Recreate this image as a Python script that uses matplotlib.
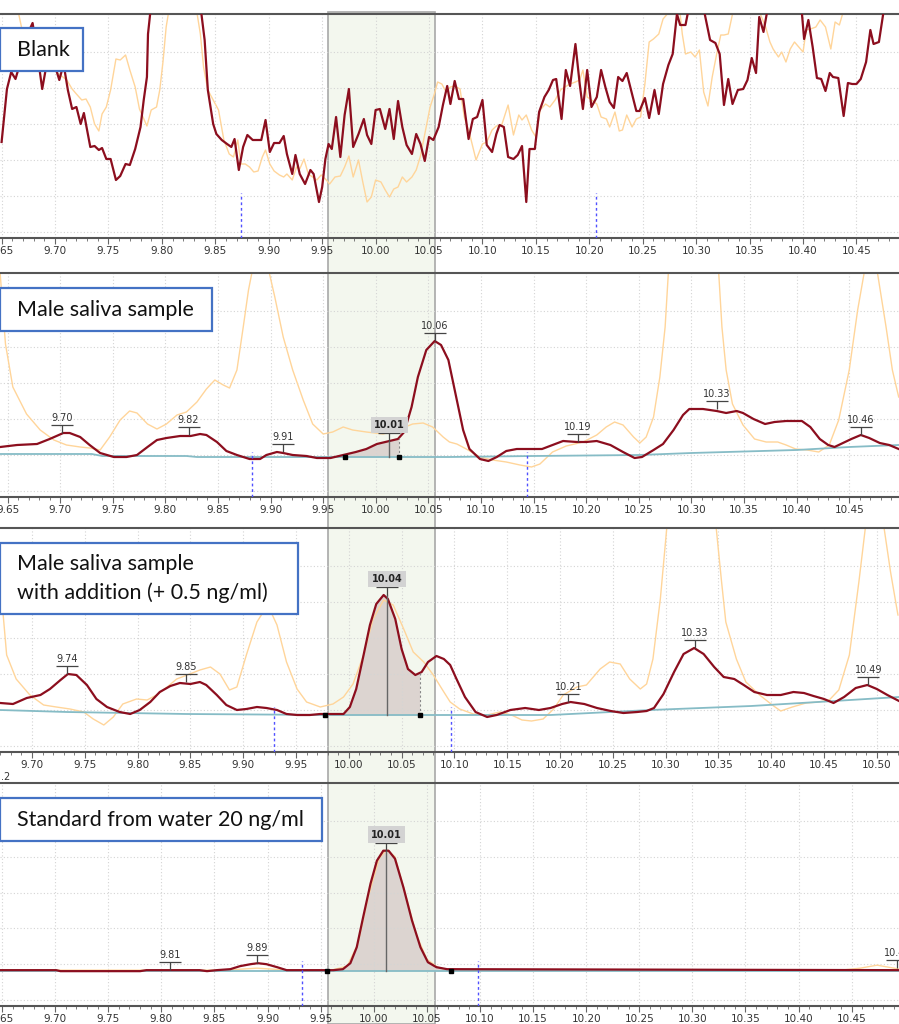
import numpy as np
import matplotlib.pyplot as plt
from matplotlib.patches import Rectangle
from matplotlib.path import Path
from matplotlib.ticker import MultipleLocator, FormatStrFormatter

# ---------------- data (retention time [min], signal height [a.u.]) ----------------
# Panel 1: Blank
p1_red_t = [9.650, 9.655, 9.659, 9.663, 9.669, 9.673, 9.679, 9.683, 9.688, 9.692, 9.698, 9.704, 9.708,
            9.712, 9.716, 9.720, 9.724, 9.727, 9.733, 9.737, 9.741, 9.744, 9.748, 9.752, 9.757, 9.761,
            9.766, 9.770, 9.775, 9.780, 9.783, 9.786, 9.787, 9.789, 9.800, 9.820, 9.837, 9.840, 9.843,
            9.848, 9.851, 9.856, 9.861, 9.865, 9.868, 9.872, 9.876, 9.880, 9.885, 9.889, 9.893, 9.897,
            9.901, 9.905, 9.910, 9.914, 9.917, 9.922, 9.925, 9.929, 9.934, 9.939, 9.942, 9.947, 9.950,
            9.953, 9.956, 9.959, 9.963, 9.967, 9.971, 9.975, 9.979, 9.984, 9.989, 9.992, 9.996, 10.000,
            10.004, 10.009, 10.013, 10.017, 10.021, 10.025, 10.029, 10.034, 10.038, 10.042, 10.046,
            10.050, 10.054, 10.059, 10.063, 10.067, 10.070, 10.074, 10.078, 10.082, 10.087, 10.091,
            10.095, 10.100, 10.104, 10.109, 10.113, 10.116, 10.120, 10.124, 10.129, 10.133, 10.137,
            10.141, 10.144, 10.149, 10.153, 10.158, 10.162, 10.166, 10.169, 10.174, 10.178, 10.182,
            10.187, 10.191, 10.194, 10.198, 10.202, 10.207, 10.211, 10.215, 10.219, 10.223, 10.227,
            10.231, 10.235, 10.240, 10.244, 10.247, 10.252, 10.256, 10.261, 10.265, 10.269, 10.274,
            10.278, 10.282, 10.285, 10.290, 10.292, 10.300, 10.308, 10.313, 10.318, 10.322, 10.326,
            10.330, 10.334, 10.339, 10.344, 10.348, 10.352, 10.356, 10.359, 10.363, 10.366, 10.380,
            10.399, 10.401, 10.405, 10.409, 10.413, 10.417, 10.421, 10.425, 10.428, 10.433, 10.438,
            10.442, 10.446, 10.450, 10.454, 10.459, 10.463, 10.466, 10.471, 10.475, 10.490]
p1_red_y = [96, 149, 166, 159, 181, 201, 215, 188, 149, 173, 179, 158, 174,
            148, 129, 131, 114, 125, 91, 92, 88, 90, 79, 79, 58, 62,
            74, 73, 89, 111, 138, 161, 204, 224, 320, 320, 224, 198, 148,
            114, 104, 98, 94, 91, 99, 68, 91, 103, 98, 98, 98, 118,
            86, 95, 95, 102, 84, 64, 83, 64, 54, 68, 64, 36, 51,
            79, 94, 89, 121, 81, 123, 149, 91, 104, 119, 103, 94, 128,
            129, 109, 129, 99, 137, 111, 93, 84, 104, 94, 77,
            101, 98, 111, 133, 152, 134, 157, 139, 139, 99, 119,
            121, 138, 93, 86, 104, 113, 111, 81, 79, 83, 92,
            36, 89, 89, 126, 141, 148, 158, 159, 119, 168, 152,
            194, 154, 129, 168, 131, 141, 168, 151, 136, 130, 161,
            157, 165, 144, 127, 127, 140, 120, 148, 124, 154, 173,
            184, 224, 213, 213, 224, 320, 224, 198, 195, 184, 133,
            159, 134, 148, 149, 158, 180, 165, 221, 206, 224, 320,
            224, 199, 218, 191, 160, 159, 147, 165, 161, 160, 122,
            155, 154, 154, 159, 176, 208, 194, 196, 224, 320]
p1_or_t = [9.666, 9.670, 9.680, 9.695, 9.711, 9.716, 9.720, 9.725, 9.729, 9.733, 9.737, 9.741, 9.744,
           9.748, 9.752, 9.757, 9.761, 9.766, 9.770, 9.775, 9.779, 9.786, 9.790, 9.795, 9.798, 9.801,
           9.804, 9.806, 9.820, 9.833, 9.836, 9.839, 9.843, 9.848, 9.853, 9.858, 9.863, 9.867, 9.871,
           9.874, 9.878, 9.882, 9.886, 9.890, 9.894, 9.897, 9.901, 9.905, 9.910, 9.914, 9.917, 9.922,
           9.926, 9.929, 9.933, 9.937, 9.941, 9.945, 9.949, 9.953, 9.957, 9.962, 9.967, 9.971, 9.975,
           9.979, 9.984, 9.988, 9.992, 9.996, 10.000, 10.005, 10.009, 10.013, 10.017, 10.021, 10.025,
           10.029, 10.034, 10.038, 10.042, 10.046, 10.051, 10.055, 10.058, 10.062, 10.066, 10.070,
           10.074, 10.079, 10.083, 10.088, 10.094, 10.100, 10.104, 10.109, 10.113, 10.118, 10.124,
           10.129, 10.134, 10.137, 10.141, 10.146, 10.150, 10.154, 10.159, 10.163, 10.168, 10.173,
           10.177, 10.182, 10.187, 10.191, 10.194, 10.198, 10.202, 10.207, 10.211, 10.216, 10.219,
           10.224, 10.228, 10.231, 10.235, 10.240, 10.244, 10.248, 10.252, 10.256, 10.260, 10.265,
           10.269, 10.273, 10.280, 10.285, 10.287, 10.290, 10.295, 10.299, 10.303, 10.307, 10.311,
           10.315, 10.319, 10.323, 10.326, 10.330, 10.334, 10.345, 10.360, 10.365, 10.369, 10.372,
           10.377, 10.380, 10.384, 10.388, 10.392, 10.396, 10.400, 10.403, 10.407, 10.412, 10.416,
           10.421, 10.426, 10.430, 10.434, 10.437, 10.490]
p1_or_y = [224, 204, 171, 171, 158, 149, 144, 138, 139, 131, 114, 107, 124,
           131, 148, 179, 178, 183, 168, 151, 129, 112, 128, 131, 148, 176,
           211, 224, 320, 224, 204, 171, 148, 138, 128, 98, 84, 81, 98,
           74, 74, 71, 66, 67, 81, 88, 74, 67, 63, 61, 64, 58,
           71, 69, 79, 64, 61, 58, 63, 59, 54, 61, 62, 71, 82,
           61, 78, 56, 36, 41, 58, 56, 48, 41, 49, 51, 61,
           56, 61, 68, 82, 104, 131, 144, 156, 154, 146, 151,
           152, 149, 121, 104, 78, 94, 96, 108, 112, 113, 133,
           103, 123, 118, 123, 108, 101, 128, 134, 131, 138, 148,
           151, 154, 156, 158, 168, 141, 138, 134, 121, 119, 111,
           126, 107, 108, 123, 111, 119, 121, 154, 196, 199, 204,
           219, 224, 300, 224, 204, 184, 186, 181, 188, 146, 132,
           161, 183, 203, 203, 204, 224, 300, 224, 211, 196, 189,
           181, 186, 176, 189, 196, 191, 186, 208, 209, 211, 218,
           211, 189, 216, 213, 224, 300]

# Panel 2: Male saliva sample
p2_red_t = [9.643, 9.659, 9.678, 9.690, 9.703, 9.709, 9.719, 9.728, 9.738, 9.751, 9.763, 9.773, 9.783,
            9.792, 9.801, 9.814, 9.824, 9.833, 9.839, 9.849, 9.858, 9.868, 9.880, 9.890, 9.896, 9.906,
            9.912, 9.921, 9.934, 9.944, 9.957, 9.969, 9.981, 9.991, 10.001, 10.013, 10.021, 10.027,
            10.034, 10.040, 10.048, 10.056, 10.062, 10.069, 10.077, 10.083, 10.089, 10.099, 10.107,
            10.115, 10.124, 10.134, 10.146, 10.158, 10.168, 10.178, 10.191, 10.200, 10.210, 10.223,
            10.235, 10.246, 10.253, 10.264, 10.273, 10.283, 10.292, 10.298, 10.311, 10.324, 10.333,
            10.343, 10.349, 10.359, 10.370, 10.379, 10.390, 10.405, 10.413, 10.422, 10.430, 10.436,
            10.444, 10.452, 10.461, 10.469, 10.479, 10.488, 10.497]
p2_red_y = [50, 52, 53, 58, 64, 64, 60, 52, 44, 40, 40, 42, 50,
            57, 59, 61, 61, 63, 62, 55, 46, 42, 38, 38, 42, 45,
            44, 42, 41, 39, 39, 42, 45, 48, 53, 56, 58, 65,
            90, 120, 147, 156, 152, 137, 97, 67, 48, 38, 36,
            40, 46, 48, 48, 48, 52, 56, 55, 55, 56, 52,
            45, 39, 40, 47, 53, 67, 82, 88, 88, 86, 84,
            86, 84, 78, 73, 75, 76, 76, 70, 58, 52, 50,
            54, 58, 62, 59, 54, 52, 48]
p2_or_t = [9.643, 9.648, 9.655, 9.668, 9.681, 9.694, 9.706, 9.719, 9.728, 9.738, 9.747, 9.757, 9.766,
           9.773, 9.783, 9.792, 9.801, 9.811, 9.820, 9.830, 9.839, 9.847, 9.855, 9.861, 9.868, 9.874,
           9.879, 9.882, 9.890, 9.899, 9.904, 9.912, 9.921, 9.931, 9.940, 9.950, 9.959, 9.969, 9.978,
           9.991, 10.007, 10.023, 10.035, 10.045, 10.054, 10.064, 10.070, 10.077, 10.086, 10.099,
           10.111, 10.124, 10.137, 10.148, 10.156, 10.168, 10.181, 10.197, 10.210, 10.219, 10.227,
           10.235, 10.245, 10.251, 10.257, 10.264, 10.270, 10.275, 10.278, 10.300, 10.326, 10.329,
           10.333, 10.339, 10.349, 10.360, 10.371, 10.382, 10.390, 10.399, 10.410, 10.421, 10.431,
           10.440, 10.450, 10.458, 10.464, 10.470, 10.477, 10.485, 10.491, 10.497]
p2_or_y = [223, 153, 110, 83, 67, 57, 52, 50, 49, 47, 60, 77, 86,
           84, 73, 68, 73, 82, 85, 95, 108, 117, 112, 109, 127, 170,
           207, 223, 300, 223, 200, 160, 127, 97, 73, 63, 65, 70, 67,
           65, 63, 68, 73, 74, 70, 60, 55, 53, 48, 40,
           37, 35, 32, 30, 33, 45, 51, 55, 62, 70, 75,
           72, 60, 54, 60, 80, 120, 170, 223, 300, 223, 170,
           127, 93, 72, 58, 55, 55, 52, 48, 47, 45, 52,
           77, 127, 187, 223, 300, 223, 170, 127, 100]
p2_base_t = [9.643, 9.73, 9.74, 9.82, 9.83, 10.07, 10.15, 10.25, 10.30, 10.40, 10.45, 10.497]
p2_base_y = [43, 43, 41, 41, 40, 40, 41, 42, 44, 47, 50, 52]
p2_peaks_t = [9.702, 9.822, 9.912, 10.056, 10.192, 10.324, 10.461]
p2_peaks_y = [64, 62, 45, 156, 55, 88, 62]
p2_peaks_lab = ['9.70', '9.82', '9.91', '10.06', '10.19', '10.33', '10.46']
p2_int = (9.971, 10.022, 10.013, 56, '10.01')   # start, end, apex, apex height, label

# Panel 3: Male saliva sample with addition
p3_red_t = [9.670, 9.682, 9.695, 9.708, 9.717, 9.727, 9.734, 9.742, 9.752, 9.761, 9.771, 9.783, 9.793,
            9.802, 9.812, 9.821, 9.831, 9.840, 9.850, 9.859, 9.865, 9.875, 9.884, 9.894, 9.903, 9.913,
            9.922, 9.932, 9.941, 9.951, 9.963, 9.973, 9.985, 9.995, 10.001, 10.007, 10.014, 10.020,
            10.026, 10.033, 10.037, 10.044, 10.050, 10.056, 10.063, 10.069, 10.075, 10.083, 10.090,
            10.096, 10.102, 10.110, 10.120, 10.131, 10.140, 10.153, 10.167, 10.180, 10.191, 10.202,
            10.210, 10.223, 10.235, 10.248, 10.260, 10.273, 10.282, 10.289, 10.298, 10.308, 10.317,
            10.327, 10.336, 10.346, 10.355, 10.365, 10.374, 10.384, 10.396, 10.409, 10.421, 10.431,
            10.440, 10.450, 10.459, 10.469, 10.480, 10.491, 10.500, 10.510, 10.521]
p3_red_y = [49, 48, 54, 57, 63, 72, 78, 77, 67, 53, 45, 40, 38,
            42, 50, 60, 66, 69, 68, 70, 67, 57, 47, 42, 43, 45,
            44, 42, 38, 37, 37, 38, 38, 38, 45, 63, 97, 127,
            148, 157, 153, 133, 103, 83, 77, 80, 90, 96, 93,
            87, 73, 55, 40, 35, 37, 42, 44, 42, 44, 48,
            50, 48, 44, 41, 39, 40, 41, 44, 58, 80, 98,
            104, 98, 85, 75, 73, 67, 60, 57, 57, 60, 59,
            56, 53, 49, 55, 64, 67, 63, 57, 51]
p3_or_t = [9.670, 9.676, 9.685, 9.698, 9.711, 9.723, 9.736, 9.749, 9.758, 9.768, 9.777, 9.786, 9.799,
           9.809, 9.818, 9.828, 9.837, 9.847, 9.859, 9.869, 9.878, 9.887, 9.894, 9.903, 9.913, 9.919,
           9.925, 9.932, 9.941, 9.951, 9.960, 9.973, 9.985, 9.995, 10.004, 10.014, 10.023, 10.033,
           10.042, 10.052, 10.061, 10.071, 10.080, 10.090, 10.096, 10.105, 10.118, 10.131, 10.143,
           10.154, 10.164, 10.173, 10.184, 10.194, 10.203, 10.216, 10.225, 10.238, 10.247, 10.257,
           10.266, 10.276, 10.282, 10.288, 10.295, 10.301, 10.320, 10.348, 10.353, 10.357, 10.367,
           10.376, 10.389, 10.401, 10.409, 10.420, 10.433, 10.445, 10.455, 10.464, 10.474, 10.483,
           10.489, 10.495, 10.507, 10.513, 10.520]
p3_or_y = [170, 97, 73, 57, 47, 45, 43, 40, 33, 27, 35, 48, 53,
           52, 57, 65, 73, 77, 82, 85, 78, 62, 65, 97, 130, 140,
           143, 127, 90, 63, 50, 45, 48, 55, 68, 97, 133, 152,
           147, 123, 100, 90, 77, 60, 50, 43, 38, 37, 40,
           37, 32, 31, 33, 43, 57, 65, 67, 83, 90, 88,
           73, 63, 68, 93, 153, 223, 300, 223, 170, 130, 93,
           70, 57, 47, 41, 45, 49, 50, 52, 62, 97, 170,
           223, 300, 223, 180, 137]
p3_base_t = [9.670, 9.733, 9.846, 9.985, 10.096, 10.191, 10.286, 10.381, 10.444, 10.521]
p3_base_y = [42, 40, 38, 37, 37, 37, 42, 46, 50, 55]
p3_peaks_t = [9.733, 9.846, 10.208, 10.328, 10.492]
p3_peaks_y = [78, 70, 50, 104, 67]
p3_peaks_lab = ['9.74', '9.85', '10.21', '10.33', '10.49']
p3_int = (9.977, 10.067, 10.036, 157, '10.04')

# Panel 4: Standard from water 20 ng/ml
p4_red_t = [9.648, 9.701, 9.705, 9.780, 9.786, 9.836, 9.843, 9.852, 9.865, 9.874, 9.884, 9.891, 9.899,
            9.909, 9.918, 9.962, 9.971, 9.978, 9.984, 9.990, 9.997, 10.003, 10.009, 10.014, 10.020,
            10.028, 10.036, 10.044, 10.051, 10.059, 10.069, 10.495]
p4_red_y = [36, 36, 35, 35, 36, 36, 35, 36, 37, 40, 42, 43, 42,
            39, 36, 36, 37, 43, 59, 89, 123, 146, 156, 156, 148,
            119, 86, 59, 44, 39, 37, 36]
p4_or_t = [9.648, 9.860, 9.875, 9.890, 9.905, 9.920, 9.960, 9.975, 9.985, 9.995, 10.005, 10.012,
           10.020, 10.030, 10.040, 10.050, 10.060, 10.070, 10.440, 10.458, 10.474, 10.490, 10.495]
p4_or_y = [36, 36, 37, 38, 37, 36, 36, 40, 62, 110, 148, 157,
           150, 112, 72, 47, 39, 36, 36, 38, 41, 38, 37]
p4_base_t = [9.648, 10.495]
p4_base_y = [35.5, 35.5]
p4_peaks_t = [9.808, 9.890, 10.493]
p4_peaks_y = [36, 43, 38]
p4_peaks_lab = ['9.81', '9.89', '10.49']
p4_int = (9.956, 10.073, 10.012, 156, '10.01')

# retention-time window markers (blue dashed) and x ranges of each trace
markers = [(9.874, 10.206), (9.882, 10.144), (9.929, 10.097), (9.932, 10.0985)]
xlims = [(9.6485, 10.4898), (9.6428, 10.4973), (9.6697, 10.521), (9.6481, 10.4946)]
titles = ['Blank', 'Male saliva sample', 'Male saliva sample\nwith addition (+ 0.5 ng/ml)',
          'Standard from water 20 ng/ml']
window = (9.955, 10.056)  # expected RT window, drawn with panel 2 scale

# ---------------- layout ----------------
W, H = 899, 1024
fig = plt.figure(figsize=(W / 100, H / 100), dpi=100)
fig.patch.set_facecolor('white')

panel_px = [(14, 238), (273, 497), (528, 752), (783, 1006)]
box_px = [(0, 28, 83, 71), (0, 288, 212, 331), (0, 543, 298, 614), (0, 798, 322, 841)]

RED = '#8C0E1E'
ORANGE = '#FFD59A'
TEAL = '#86BCC6'


def bar_marker():
    verts = [(-11, 8), (11, 8), (0, 8), (0, 0)]
    codes = [Path.MOVETO, Path.LINETO, Path.MOVETO, Path.LINETO]
    return Path(verts, codes)


BAR = bar_marker()


def peak_label(ax, t, h, lab):
    ax.plot([t], [h], marker=BAR, markersize=22 * 0.72, mec='#444', mew=0.9, fillstyle='none',
            ls='none', zorder=6, clip_on=False)
    ax.annotate(lab, xy=(t, h), xytext=(0, 10), textcoords='offset pixels', ha='center',
                va='bottom', fontsize=7, color='#333', zorder=6, annotation_clip=False)


def integrated(ax, red_t, red_y, base_t, base_y, info):
    t0, t1, tp, hp, lab = info
    tt = [t0] + [t for t in red_t if t0 < t < t1] + [t1]
    yy = np.interp(tt, red_t, red_y)
    bb = np.interp(tt, base_t, base_y)
    ax.fill_between(tt, bb, yy, color='#DCD4D0', lw=0, zorder=1.5)
    b0, b1, bp = np.interp([t0, t1, tp], base_t, base_y)
    ax.plot([tp, tp], [bp, hp], color='#666', lw=1, zorder=5)
    ax.plot([t1, t1], [b1, np.interp(t1, red_t, red_y)], color='#888', lw=0.8, ls=(0, (2, 2)), zorder=5)
    ax.plot([t0, t1], [b0, b1], ls='none', marker='s', ms=2.5, color='black', zorder=6)
    ax.plot([tp], [hp], marker=BAR, markersize=22 * 0.72, mec='#444', mew=0.9, fillstyle='none',
            ls='none', zorder=6)
    ax.annotate(lab, xy=(tp, hp), xytext=(0, 11), textcoords='offset pixels', ha='center',
                va='bottom', fontsize=7, fontweight='bold', color='#222', zorder=7,
                bbox=dict(boxstyle='square,pad=0.35', fc='#D3D3D3', ec='none'))


reds = [(p1_red_t, p1_red_y), (p2_red_t, p2_red_y), (p3_red_t, p3_red_y), (p4_red_t, p4_red_y)]
oranges = [(p1_or_t, p1_or_y), (p2_or_t, p2_or_y), (p3_or_t, p3_or_y), (p4_or_t, p4_or_y)]
bases = [None, (p2_base_t, p2_base_y), (p3_base_t, p3_base_y), (p4_base_t, p4_base_y)]
peaks = [None, (p2_peaks_t, p2_peaks_y, p2_peaks_lab), (p3_peaks_t, p3_peaks_y, p3_peaks_lab),
         (p4_peaks_t, p4_peaks_y, p4_peaks_lab)]
ints = [None, p2_int, p3_int, p4_int]

axes = []
for i in range(4):
    top, bot = panel_px[i]
    ax = fig.add_axes([0, 1 - bot / H, 1, (bot - top) / H])
    ax.set_facecolor('none')
    ax.set_xlim(*xlims[i])
    ax.set_ylim(0, 224)
    ax.set_yticks([6, 42, 78, 114, 150, 186])
    ax.tick_params(axis='y', left=False, labelleft=False)
    ax.xaxis.set_major_locator(MultipleLocator(0.05))
    ax.xaxis.set_minor_locator(MultipleLocator(0.01))
    ax.xaxis.set_major_formatter(FormatStrFormatter('%.2f'))
    ax.tick_params(axis='x', which='major', direction='out', length=4, width=0.8, color='#666',
                   labelsize=7.5, labelcolor='#333', pad=2)
    ax.tick_params(axis='x', which='minor', direction='out', length=2.5, width=0.6, color='#666')
    ax.grid(True, which='major', color='#D4D4D4', ls=(0, (1, 2)), lw=0.8, zorder=0)
    for s in ['left', 'right']:
        ax.spines[s].set_visible(False)
    ax.spines['top'].set_color('#555')
    ax.spines['top'].set_linewidth(1.5)
    ax.spines['bottom'].set_color('#555')
    ax.spines['bottom'].set_linewidth(1.5)

    ax.plot(*oranges[i], color=ORANGE, lw=1, zorder=2)
    if bases[i] is not None:
        ax.plot(*bases[i], color=TEAL, lw=1.3, zorder=2.5)
    ax.plot(*reds[i], color=RED, lw=1.6, zorder=3)
    for m in markers[i]:
        ax.plot([m, m], [0, 45], color='#5050FF', lw=1, ls=(0, (2, 2)), zorder=4)
    if ints[i] is not None:
        integrated(ax, reds[i][0], reds[i][1], bases[i][0], bases[i][1], ints[i])
    if peaks[i] is not None:
        for t, h, lab in zip(*peaks[i]):
            peak_label(ax, t, h, lab)
    axes.append(ax)

# expected retention window (shaded band across all panels)
fig.canvas.draw()
x0 = axes[1].transData.transform((window[0], 0))[0] / W
x1 = axes[1].transData.transform((window[1], 0))[0] / W
fig.add_artist(Rectangle((x0, 0), x1 - x0, 1 - 12 / H, transform=fig.transFigure,
                         fc='#F3F7EE', ec='#A8A8A8', lw=1.2, zorder=-1))

# sample name boxes
for (bx0, by0, bx1, by1), title in zip(box_px, titles):
    fig.add_artist(Rectangle((bx0 / W, 1 - by1 / H), (bx1 - bx0) / W, (by1 - by0) / H,
                             transform=fig.transFigure, fc='white', ec='#4472C4', lw=1.6, zorder=10))
    fig.text(17 / W, 1 - (by0 + by1) / 2 / H, title, fontsize=15.5, family='Lato', color='#111',
             ha='left', va='center', linespacing=1.45, zorder=11)

fig.text(1 / W, 1 - 777 / H, '.2', fontsize=7, color='#333', va='center')

fig.savefig('out.png', dpi=100, facecolor='white')
